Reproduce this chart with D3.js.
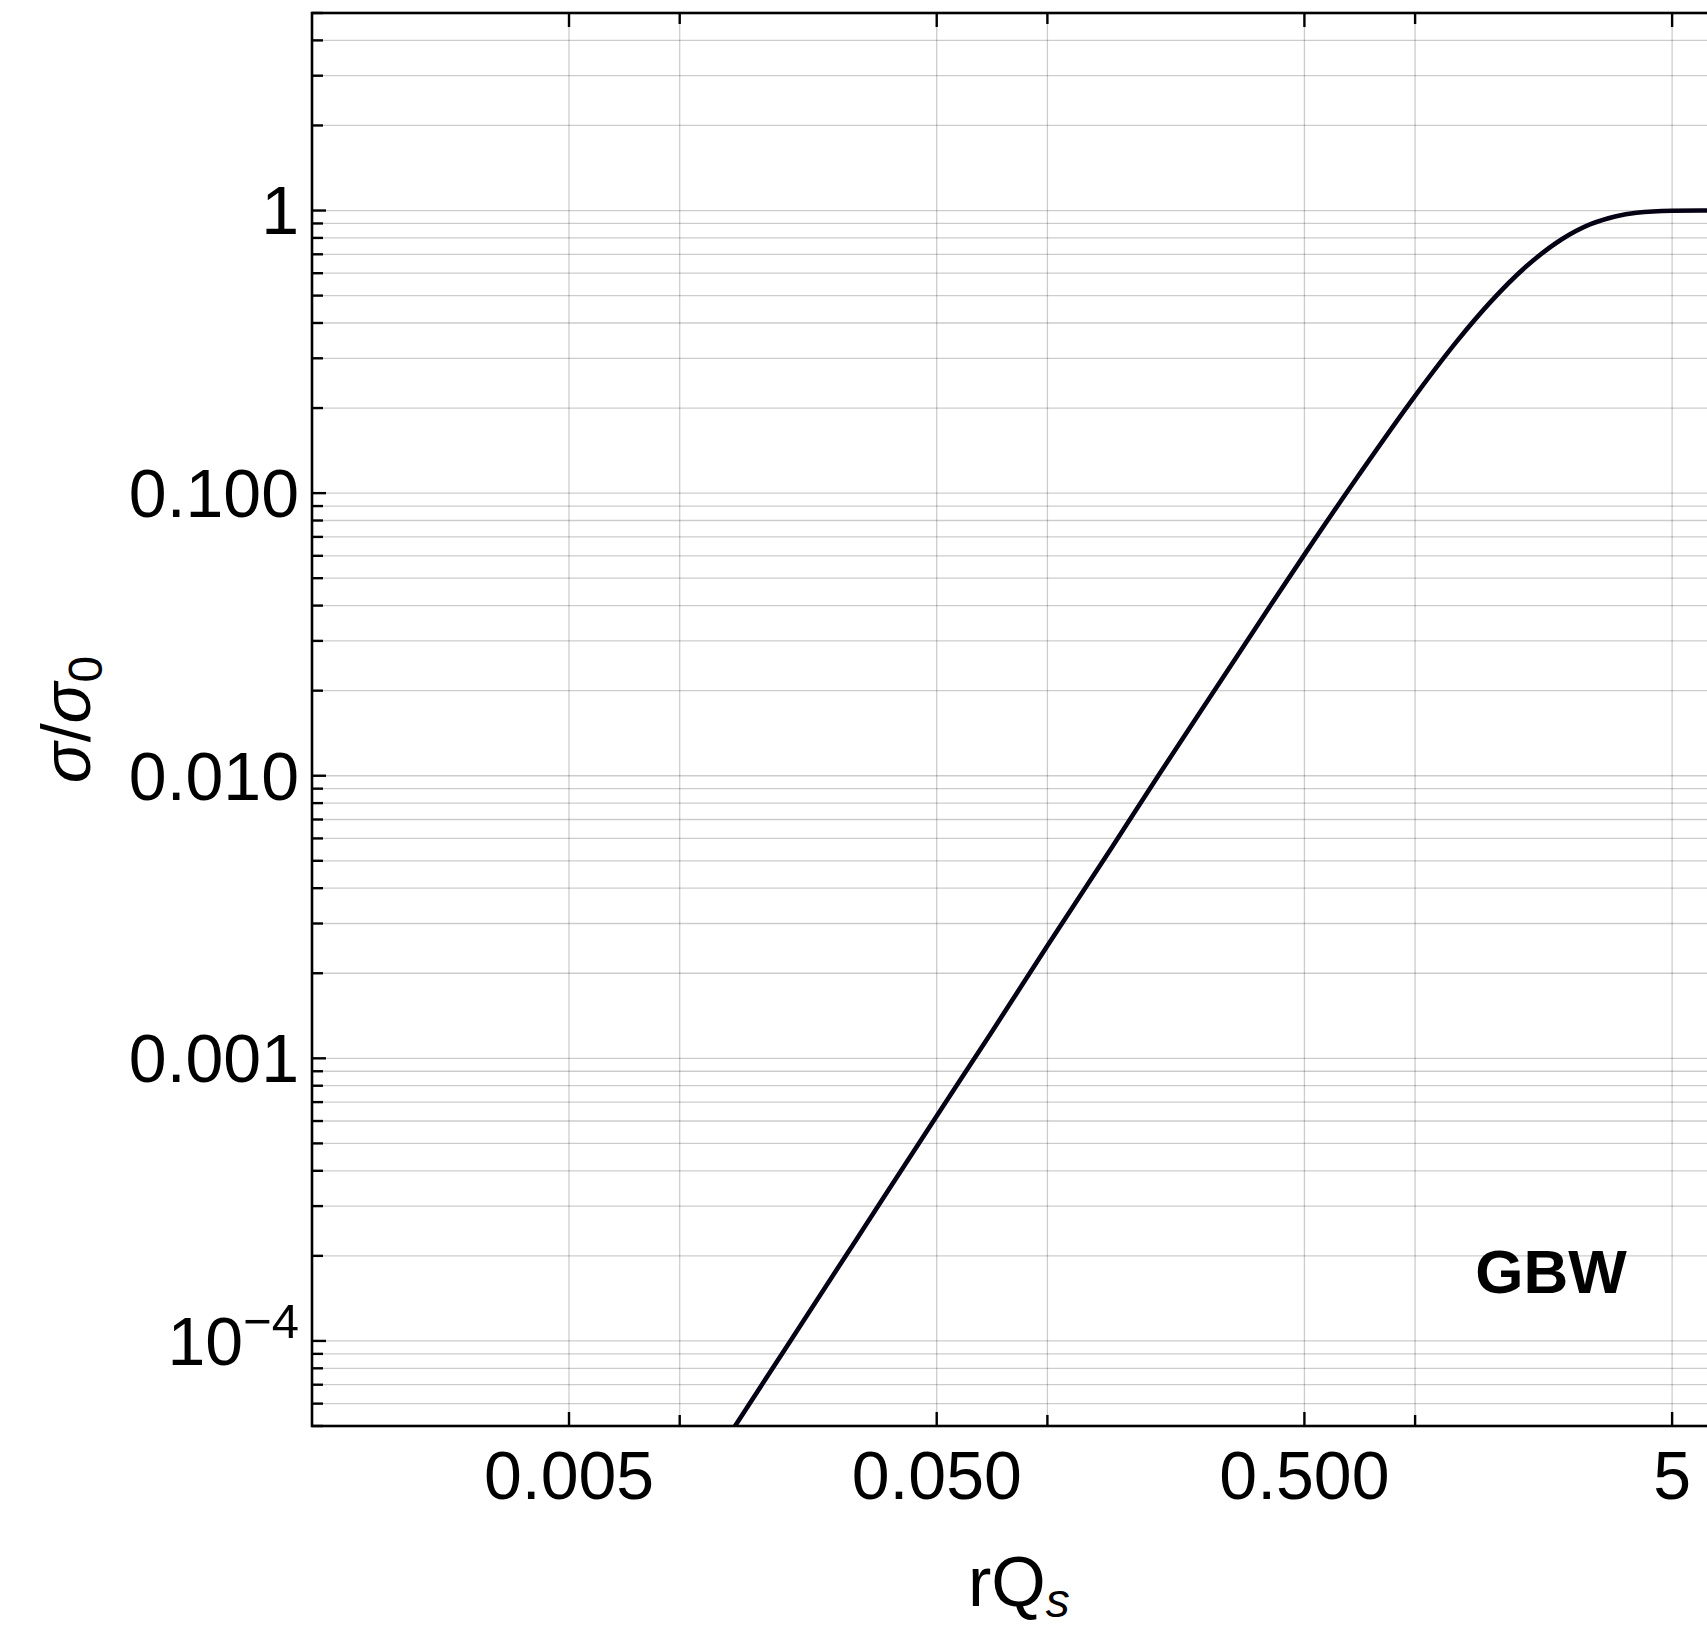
<!DOCTYPE html>
<html>
  <head>
    <meta charset="utf-8">
    <style>
      body {
          margin: 0;
          background: #fff;
          font-family: "Liberation Sans", Arial, sans-serif;
      }
      .grid line {
          stroke: #000;
          stroke-opacity: .2;
          stroke-width: 1.3;
      }
      .frame {
          fill: none;
          stroke: #000;
          stroke-width: 2.6;
      }
      .tick-mark {
          stroke: #000;
          stroke-width: 2.4;
      }
      .curve {
          fill: none;
          stroke: #050014;
          stroke-width: 4.6;
      }
    </style>
  </head>
  <body>
    <script src="https://cdnjs.cloudflare.com/ajax/libs/d3/7.8.5/d3.min.js"></script>
    <script>
      // x axis (rQs), log scale
      var xDomain = [0.001, 7];
      var xMajor = [0.005, 0.05, 0.5, 5];
      var xMajorLabels = ["0.005", "0.050", "0.500", "5"];
      var xMinor = [0.01, 0.1, 1];

      // y axis (sigma/sigma0), log scale
      var yDomain = [5e-5, 5];
      var yMajor = [1e-4, 1e-3, 1e-2, 1e-1, 1];
      var yMajorLabels = ["10|−4", "0.001", "0.010", "0.100", "1"];
      var yMinorMult = [2, 3, 4, 5, 6, 7, 8, 9];

      // GBW curve
      var rQs = [0.01, 0.014, 0.02, 0.03, 0.05, 0.07, 0.1, 0.15, 0.2, 0.3, 0.4, 0.5,
                 0.7, 1.0, 1.3, 1.6, 2.0, 2.5, 3.0, 3.5, 4.0, 5.0, 6.0, 7.0];
      var ratio = [2.5e-5, 4.9e-5, 1.0e-4, 2.25e-4, 6.25e-4, 1.22e-3, 2.5e-3, 5.6e-3, 0.00998,
                   0.0222, 0.0392, 0.0606, 0.115, 0.221, 0.345, 0.473, 0.632, 0.790,
                   0.895, 0.953, 0.982, 0.998, 1.0, 1.0];

      var width = 1707, height = 1625;
      var plotLeft = 312, plotTop = 13, plotBottom = 1426;
      var decade = 367.7;   // px per decade on x

      var x = d3.scaleLog()
          .domain(xDomain)
          .range([plotLeft, plotLeft + decade * Math.log10(xDomain[1] / xDomain[0])]);
      var y = d3.scaleLog()
          .domain(yDomain)
          .range([plotBottom, plotTop]);
      var plotRight = x.range()[1];

      var svg = d3.select("body").append("svg")
          .attr("width", width)
          .attr("height", height);

      // minor y values for gridlines/ticks
      var yMinor = [];
      yMajor.concat([1e-5, 10]).forEach(function(p){
          yMinorMult.forEach(function(m){
              var v = p * m;
              if (v >= yDomain[0] * 0.999 && v <= yDomain[1] * 1.001 && yMajor.indexOf(v) < 0) yMinor.push(v);
          });
      });

      // gridlines
      var grid = svg.append("g").attr("class", "grid");
      grid.selectAll(".hy")
          .data(yMajor.concat(yMinor))
          .enter().append("line")
          .attr("x1", plotLeft).attr("x2", plotRight)
          .attr("y1", function(d){ return y(d); })
          .attr("y2", function(d){ return y(d); });
      grid.selectAll(".vx")
          .data(xMajor.concat(xMinor))
          .enter().append("line")
          .attr("y1", plotTop).attr("y2", plotBottom)
          .attr("x1", function(d){ return x(d); })
          .attr("x2", function(d){ return x(d); });

      // curve, clipped to the frame
      svg.append("clipPath").attr("id", "clip")
          .append("rect")
          .attr("x", plotLeft).attr("y", plotTop)
          .attr("width", plotRight - plotLeft).attr("height", plotBottom - plotTop);

      var line = d3.line()
          .x(function(d){ return x(d[0]); })
          .y(function(d){ return y(d[1]); })
          .curve(d3.curveMonotoneX);

      svg.append("path")
          .datum(rQs.map(function(v, i){ return [v, ratio[i]]; }))
          .attr("class", "curve")
          .attr("clip-path", "url(#clip)")
          .attr("d", line);

      // frame
      svg.append("rect")
          .attr("class", "frame")
          .attr("x", plotLeft).attr("y", plotTop)
          .attr("width", plotRight - plotLeft).attr("height", plotBottom - plotTop);

      // ticks on left side
      var ticks = svg.append("g");
      ticks.selectAll(".ty")
          .data(yMajor.map(function(d){ return [d, 14]; }).concat(yMinor.map(function(d){ return [d, 11]; })))
          .enter().append("line")
          .attr("class", "tick-mark")
          .attr("x1", plotLeft).attr("x2", function(d){ return plotLeft + d[1]; })
          .attr("y1", function(d){ return y(d[0]); })
          .attr("y2", function(d){ return y(d[0]); });

      // ticks on bottom and top
      var xt = xMajor.map(function(d){ return [d, 14]; }).concat(xMinor.map(function(d){ return [d, 11]; }));
      ticks.selectAll(".tb")
          .data(xt)
          .enter().append("line")
          .attr("class", "tick-mark")
          .attr("y1", plotBottom).attr("y2", function(d){ return plotBottom - d[1]; })
          .attr("x1", function(d){ return x(d[0]); })
          .attr("x2", function(d){ return x(d[0]); });
      ticks.selectAll(".tt")
          .data(xt)
          .enter().append("line")
          .attr("class", "tick-mark")
          .attr("y1", plotTop).attr("y2", function(d){ return plotTop + d[1]; })
          .attr("x1", function(d){ return x(d[0]); })
          .attr("x2", function(d){ return x(d[0]); });

      // x tick labels
      svg.append("g").selectAll("text")
          .data(xMajor)
          .enter().append("text")
          .attr("x", function(d){ return x(d); })
          .attr("y", 1499)
          .attr("text-anchor", "middle")
          .style("font-size", "68px")
          .text(function(d, i){ return xMajorLabels[i]; });

      // y tick labels
      var yl = svg.append("g").selectAll("text")
          .data(yMajor)
          .enter().append("text")
          .attr("x", plotLeft - 13)
          .attr("y", function(d){ return y(d); })
          .attr("dy", "0.35em")
          .attr("text-anchor", "end")
          .style("font-size", "68px");
      yl.each(function(d, i){
          var parts = yMajorLabels[i].split("|");
          var t = d3.select(this);
          t.append("tspan").text(parts[0]);
          if (parts.length > 1) {
              t.append("tspan")
                  .attr("dy", "-27px")
                  .style("font-size", "49px")
                  .text(parts[1]);
          }
      });

      // axis titles
      var xTitle = svg.append("text")
          .attr("x", (plotLeft + plotRight) / 2)
          .attr("y", 1606)
          .attr("text-anchor", "middle")
          .style("font-size", "70px");
      xTitle.append("tspan").text("rQ");
      xTitle.append("tspan")
          .attr("dy", "11px")
          .style("font-size", "48px")
          .style("font-style", "italic")
          .text("s");

      var yTitle = svg.append("text")
          .attr("transform", "translate(90," + ((plotTop + plotBottom) / 2) + ") rotate(-90)")
          .attr("text-anchor", "middle")
          .style("font-size", "68px");
      yTitle.append("tspan").style("font-style", "italic").text("σ");
      yTitle.append("tspan").text("/");
      yTitle.append("tspan").style("font-style", "italic").text("σ");
      yTitle.append("tspan")
          .attr("dy", "12px")
          .style("font-size", "48px")
          .text("0");

      // model label
      svg.append("text")
          .attr("x", 1551)
          .attr("y", 1293)
          .attr("text-anchor", "middle")
          .style("font-size", "62px")
          .style("font-weight", "bold")
          .text("GBW");
    </script>
  </body>
</html>
